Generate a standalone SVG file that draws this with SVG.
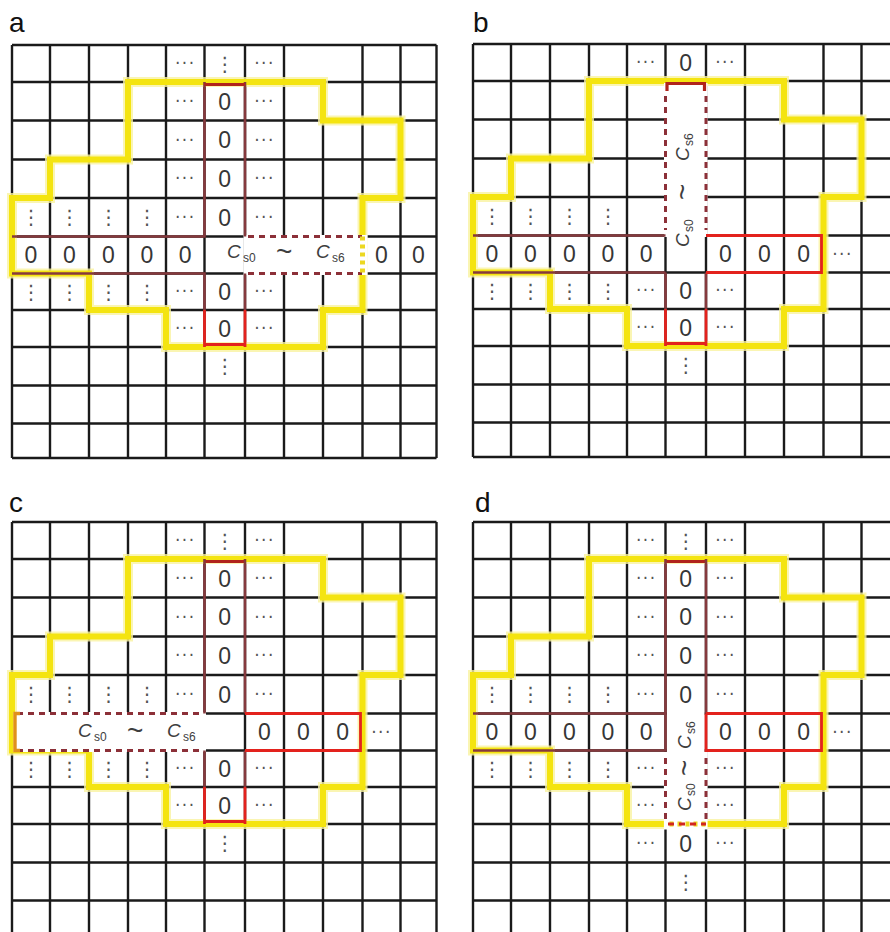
<svg xmlns="http://www.w3.org/2000/svg" xmlns:xlink="http://www.w3.org/1999/xlink" width="890" height="932" viewBox="0 0 890 932">
<style>
.g{fill:none;stroke:#1a1a1a;stroke-width:2.4}
.yl{fill:none;stroke:#f4e410;stroke-width:6;stroke-linejoin:miter}
.yg{fill:none;stroke:#f9f2a0;stroke-width:10;stroke-linejoin:miter;opacity:.8}
.mk{fill:#fff}
.br{fill:none;stroke:#85393d;stroke-width:2.6}
.rd{fill:none;stroke:#e3221d;stroke-width:2.8}
.tp{fill:none;stroke:#b0241c;stroke-width:3.2}
.ds{fill:none;stroke:#8c3038;stroke-width:3;stroke-dasharray:6 5}
.dr{fill:none;stroke:#d22620;stroke-width:3;stroke-dasharray:6 5}
.yd{fill:none;stroke:#ecd820;stroke-width:5;stroke-dasharray:4 4}
.og{fill:none;stroke:#e0901c;stroke-width:3.4}
.z{font-family:"Liberation Sans",Arial,sans-serif;font-size:23px;fill:#363636;text-anchor:middle}
.h{font-family:"DejaVu Sans",sans-serif;font-size:17px;fill:#555;text-anchor:middle;letter-spacing:1.5px}
.v{font-family:"DejaVu Sans",sans-serif;font-size:20px;fill:#555;text-anchor:middle}
.lb{font-family:"Liberation Sans",Arial,sans-serif;font-size:28px;fill:#111}
.cs{font-family:"Liberation Sans",Arial,sans-serif;font-size:19px;fill:#3e3e3e;font-style:italic}
.sb{font-size:12px;font-style:normal}
.tl{font-size:28px;font-style:normal}
</style>
<defs>
<path id="grid" d="M0,0V413 M38,0V413 M77,0V413 M116,0V413 M154,0V413 M192.5,0V413 M233,0V413 M272,0V413 M311,37V413 M350.5,0V413 M388.5,0V413 M424.5,0V413 M0,0H424.5 M0,37H424.5 M0,75.5H424.5 M0,114.5H424.5 M0,153H424.5 M0,191.5H424.5 M0,228.5H424.5 M0,265H424.5 M0,302H424.5 M0,340.5H424.5 M0,378.5H424.5 M0,413H424.5"/>
<polygon id="yp" points="116,37 311,37 311,75.5 388.5,75.5 388.5,153 350.5,153 350.5,265 311,265 311,302 154,302 154,265 77,265 77,228.5 0,228.5 0,153 38,153 38,114.5 116,114.5"/>
<g id="common">
<text class="h" x="173.25" y="24">···</text><text class="h" x="252.5" y="24">···</text>
<text class="v" x="19" y="179.25">⋮</text><text class="v" x="57.5" y="179.25">⋮</text><text class="v" x="96.5" y="179.25">⋮</text><text class="v" x="135" y="179.25">⋮</text>
<text class="v" x="19" y="253.75">⋮</text><text class="v" x="57.5" y="253.75">⋮</text><text class="v" x="96.5" y="253.75">⋮</text><text class="v" x="135" y="253.75">⋮</text>
<text class="h" x="173.25" y="252.25">···</text><text class="h" x="252.5" y="252.25">···</text>
<text class="h" x="173.25" y="289">···</text><text class="h" x="252.5" y="289">···</text>
</g>
<g id="colUp">
<text class="v" x="212.75" y="25.5">⋮</text>
<text class="h" x="173.25" y="61.75">···</text><text class="z" x="212.75" y="64.5">0</text><text class="h" x="252.5" y="61.75">···</text>
<text class="h" x="173.25" y="100.5">···</text><text class="z" x="212.75" y="103.2">0</text><text class="h" x="252.5" y="100.5">···</text>
<text class="h" x="173.25" y="139.25">···</text><text class="z" x="212.75" y="142">0</text><text class="h" x="252.5" y="139.25">···</text>
<text class="h" x="173.25" y="177.75">···</text><text class="z" x="212.75" y="180.5">0</text><text class="h" x="252.5" y="177.75">···</text>
</g>
<g id="colDn">
<text class="z" x="212.75" y="255">0</text><text class="z" x="212.75" y="291.7">0</text><text class="v" x="212.75" y="328.25">⋮</text>
</g>
<g id="leftZ">
<text class="z" x="19" y="218.2">0</text><text class="z" x="57.5" y="218.2">0</text><text class="z" x="96.5" y="218.2">0</text><text class="z" x="135" y="218.2">0</text><text class="z" x="173.25" y="218.2">0</text>
</g>
<g id="rightZ">
<text class="z" x="252.5" y="218.2">0</text><text class="z" x="291.5" y="218.2">0</text><text class="z" x="330.75" y="218.2">0</text><text class="h" x="369.5" y="215.5">···</text>
</g>
</defs>
<rect width="890" height="932" fill="#fff"/>
<g id="labels">
<text class="lb" x="9" y="32">a</text>
<text class="lb" x="473" y="32">b</text>
<text class="lb" x="9" y="512">c</text>
<text class="lb" x="475" y="512">d</text>
</g>
<g id="panel-a" transform="translate(12,45)">
<use xlink:href="#grid" class="g"/>
<use xlink:href="#yp" class="yg"/><use xlink:href="#yp" class="yl"/>
<rect class="mk" x="231.5" y="190" width="124" height="40"/>
<g id="a-outline">
<path class="br" d="M192.5,37V191.5H0 M233,37V191.5 M0,228.5H192.5V265 M233,228.5V265"/>
<path class="rd" d="M192.5,265V302 M233,265V302 M192.5,299.5H233"/>
<path class="tp" d="M192.5,39.5H233"/>
<path class="ds" d="M236,191.5H350 M236,228.5H350"/>
<path class="yd" d="M350.5,191.5V228.5"/>
</g>
<g id="a-cells">
<use xlink:href="#common"/><use xlink:href="#colUp"/><use xlink:href="#colDn"/><use xlink:href="#leftZ"/>
<text class="z" x="369.5" y="218.2">0</text><text class="z" x="406.5" y="218.2">0</text>
<text class="cs" y="213"><tspan x="215">C</tspan><tspan class="sb" x="231" y="217">s0</tspan><tspan class="tl" x="264" y="216">~</tspan><tspan x="304" y="213">C</tspan><tspan class="sb" x="320" y="217">s6</tspan></text>
</g>
</g>
<g id="panel-b" transform="translate(473,44)">
<use xlink:href="#grid" class="g"/>
<use xlink:href="#yp" class="yg"/><use xlink:href="#yp" class="yl"/>
<rect class="mk" x="191" y="39" width="43.5" height="154"/>
<g id="b-outline">
<path class="tp" d="M194,47V39.5H231.5V47"/>
<path class="ds" d="M192.5,52V186 M233,52V186"/>
<path class="br" d="M0,191.5H192.5 M0,228.5H192.5 M192.5,228.5V265 M233,228.5V265"/>
<path class="rd" d="M233,191.5H348.5V228.5H233 M192.5,265V302 M233,265V302 M192.5,299.5H233"/>
</g>
<g id="b-cells">
<use xlink:href="#common"/><use xlink:href="#colDn"/><use xlink:href="#leftZ"/><use xlink:href="#rightZ"/>
<text class="z" x="212.75" y="26.7">0</text>
<text class="cs" transform="translate(216,203) rotate(-90)" y="0"><tspan x="0">C</tspan><tspan class="sb" x="15" y="4">s0</tspan><tspan class="tl" x="47" y="3">~</tspan><tspan x="86" y="0">C</tspan><tspan class="sb" x="101" y="4">s6</tspan></text>
</g>
</g>
<g id="panel-c" transform="translate(12,522)">
<use xlink:href="#grid" class="g"/>
<use xlink:href="#yp" class="yg"/><use xlink:href="#yp" class="yl"/>
<rect class="mk" x="1.5" y="190" width="192.5" height="40"/>
<g id="c-outline">
<path class="tp" d="M192.5,39.5H233"/>
<path class="br" d="M192.5,37V191.5 M233,37V191.5 M192.5,228.5V265 M233,228.5V265"/>
<path class="ds" d="M5,191.5H190 M5,228.5H190"/>
<path class="og" d="M8,191.5H3V228.5H8"/>
<path class="rd" d="M233,191.5H348.5V228.5H233 M192.5,265V302 M233,265V302 M192.5,299.5H233"/>
</g>
<g id="c-cells">
<use xlink:href="#common"/><use xlink:href="#colUp"/><use xlink:href="#colDn"/><use xlink:href="#rightZ"/>
<text class="cs" y="215"><tspan x="66">C</tspan><tspan class="sb" x="82" y="219">s0</tspan><tspan class="tl" x="115" y="218">~</tspan><tspan x="155" y="215">C</tspan><tspan class="sb" x="171" y="219">s6</tspan></text>
</g>
</g>
<g id="panel-d" transform="translate(473,522)">
<use xlink:href="#grid" class="g"/>
<use xlink:href="#yp" class="yg"/><use xlink:href="#yp" class="yl"/>
<rect class="mk" x="193.9" y="190" width="37.7" height="114"/>
<rect class="mk" x="190.9" y="230" width="43.7" height="77.5"/>
<g id="d-outline">
<path class="tp" d="M192.5,39.5H233"/>
<path class="br" d="M192.5,37V191.5 M233,37V191.5 M0,191.5H192.5V228.5H0"/>
<path class="rd" d="M233,191.5H348.5V228.5H233V191.5"/>
<path class="ds" d="M192.5,236V298 M233,236V298"/>
<path class="yd" d="M192.5,302H233" style="stroke-dashoffset:4"/>
<path class="dr" d="M195,302H233"/>
</g>
<g id="d-cells">
<use xlink:href="#common"/><use xlink:href="#colUp"/><use xlink:href="#leftZ"/><use xlink:href="#rightZ"/>
<text class="h" x="173.25" y="326.75">···</text><text class="z" x="212.75" y="329.5">0</text><text class="h" x="252.5" y="326.75">···</text>
<text class="v" x="212.75" y="366.5">⋮</text>
<text class="cs" transform="translate(218,289) rotate(-90)" y="0"><tspan x="0">C</tspan><tspan class="sb" x="15" y="4">s0</tspan><tspan class="tl" x="35" y="3">~</tspan><tspan x="62" y="0">C</tspan><tspan class="sb" x="77" y="4">s6</tspan></text>
</g>
</g>
</svg>
